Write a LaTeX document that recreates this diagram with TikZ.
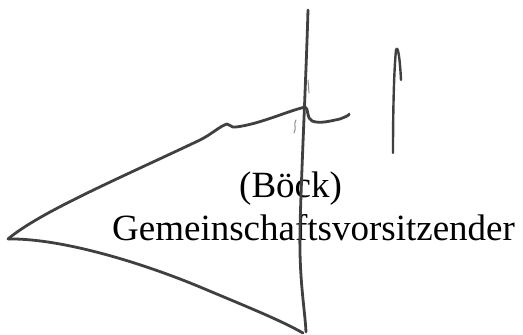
\documentclass[tikz,border=0pt]{standalone}
\usepackage{fontspec}
\setmainfont{Liberation Serif}
\begin{document}
\begin{tikzpicture}[x=1pt,y=-1pt,
  ink/.style={draw=black!75,line width=2.8pt,line cap=round,line join=round},
  faint/.style={draw=black!45,line width=1pt,line cap=round},
  lbl/.style={anchor=base west,inner sep=0pt,font=\fontsize{37}{43}\selectfont,text=black}]
\useasboundingbox (0,0) rectangle (523,335);
% text
\node[lbl] (name) at (239,197) {(Böck)};
\node[lbl] (role) at (112,240) {Gemeinschaftsvorsitzender};
% signature strokes
\coordinate (left) at (8,239);
\coordinate (cross) at (305,107);
\draw[ink] (left) .. controls (40,212) and (120,178) .. (200,140)
  .. controls (212,134) and (220,126) .. (227,124)
  .. controls (231,124) and (230,128) .. (236,127)
  .. controls (260,124) and (285,112) .. (cross);
\draw[ink] (cross) .. controls (309,108) and (306,118) .. (312,121)
  .. controls (320,124) and (330,121) .. (340,119)
  .. controls (345,117) and (350,115) .. (349,114);
\draw[ink] (left) .. controls (60,238) and (140,262) .. (200,287)
  .. controls (250,308) and (280,320) .. (303,333);
\draw[ink] (308,10) .. controls (306,80) and (301,180) .. (300,230)
  .. controls (299,280) and (305,310) .. (306,332);
\draw[ink,line width=2.4pt] (393,153) .. controls (393,110) and (394,70) .. (396,50)
  .. controls (398,44) and (400,60) .. (401,80);
\draw[faint] (296,120) .. controls (293,124) and (297,128) .. (294,133);
\draw[faint] (308,80) -- (309,93);
\end{tikzpicture}
\end{document}
